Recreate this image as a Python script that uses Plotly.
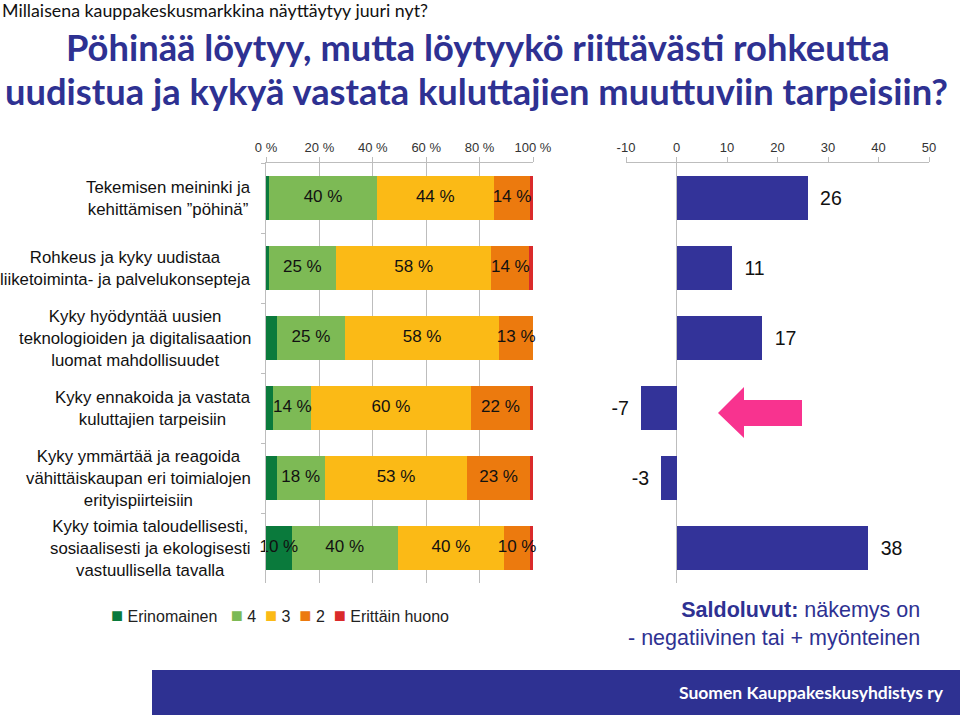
import plotly.graph_objects as go

W, H = 960, 715

categories = [
    "Tekemisen meininki ja<br>kehittämisen ”pöhinä”",
    "Rohkeus ja kyky uudistaa<br>liiketoiminta- ja palvelukonsepteja",
    "Kyky hyödyntää uusien<br>teknologioiden ja digitalisaation<br>luomat mahdollisuudet",
    "Kyky ennakoida ja vastata<br>kuluttajien tarpeisiin",
    "Kyky ymmärtää ja reagoida<br>vähittäiskaupan eri toimialojen<br>erityispiirteisiin",
    "Kyky toimia taloudellisesti,<br>sosiaalisesti ja ekologisesti<br>vastuullisella tavalla",
]

series_names = ["Erinomainen", "4", "3", "2", "Erittäin huono"]
erinomainen = [1.2, 1.0, 4.2, 2.8, 4.0, 9.6]
arvo4 = [40.3, 25.2, 25.3, 14.1, 18.0, 39.7]
arvo3 = [43.8, 58.2, 57.9, 59.8, 53.4, 39.9]
arvo2 = [13.7, 14.2, 12.6, 22.2, 23.4, 9.7]
erittain_huono = [1.0, 1.4, 0.0, 1.1, 1.2, 1.1]
series_values = [erinomainen, arvo4, arvo3, arvo2, erittain_huono]
series_colors = ["#0A7A3C", "#7DBA55", "#FBBA16", "#EC7A0E", "#DA2A2A"]

saldo = [26, 11, 17, -7, -3, 38]

pct_ticks = [0, 20, 40, 60, 80, 100]
saldo_ticks = [-10, 0, 10, 20, 30, 40, 50]


def px_x(x):
    return x / W


def px_y(y):
    return 1 - y / H


fig = go.Figure()

for name, vals, col in zip(series_names, series_values, series_colors):
    fig.add_trace(go.Bar(
        y=categories, x=vals, name=name, orientation="h", showlegend=False,
        marker=dict(color=col, line=dict(width=0)),
        hoverinfo="skip", xaxis="x", yaxis="y",
    ))

# segment labels drawn on top of all bars (centre of each stacked segment)
base = [0.0] * len(categories)
for vals in series_values:
    mids, texts = [], []
    for i, v in enumerate(vals):
        mids.append(base[i] + v / 2)
        texts.append(f"{v:.0f} %" if v >= 8 else "")
        base[i] += v
    fig.add_trace(go.Scatter(
        x=mids, y=categories, mode="text", text=texts, showlegend=False,
        textposition="middle center", cliponaxis=False,
        textfont=dict(color="#111111", size=17, family="Liberation Sans"),
        hoverinfo="skip", xaxis="x", yaxis="y",
    ))

fig.add_trace(go.Bar(
    y=categories, x=saldo, orientation="h", showlegend=False,
    marker=dict(color="#333399", line=dict(width=0)),
    text=[f"\u00a0\u2009{v}\u2009\u00a0" for v in saldo],
    textposition="outside", constraintext="none", cliponaxis=False, textangle=0,
    outsidetextfont=dict(color="#111111", size=19.5, family="Liberation Sans"),
    hoverinfo="skip",
    xaxis="x2", yaxis="y2",
))

ydom = [px_y(583), px_y(163)]
axis_font = dict(family="Liberation Sans", size=13, color="#333333")

fig.update_layout(
    width=W, height=H,
    margin=dict(l=0, r=0, t=0, b=0, autoexpand=False),
    paper_bgcolor="white", plot_bgcolor="white",
    barmode="stack", bargap=0.37,
    showlegend=False,
    xaxis=dict(
        domain=[px_x(266), px_x(533)], range=[0, 100], side="top",
        tickvals=pct_ticks, ticktext=[f"{t} %" for t in pct_ticks],
        showgrid=True, gridcolor="#BDBDBD", gridwidth=1,
        showline=True, linecolor="#BDBDBD", ticks="outside", ticklen=5,
        tickcolor="#BDBDBD", zeroline=False, tickfont=axis_font, anchor="y",
        automargin=False,
    ),
    yaxis=dict(
        domain=ydom, type="category", autorange="reversed",
        showticklabels=False, showline=True, linecolor="#BDBDBD",
        ticks="outside", tickson="boundaries", ticklen=4, tickcolor="#BDBDBD",
        showgrid=False, anchor="x", automargin=False,
    ),
    xaxis2=dict(
        domain=[px_x(626), px_x(929)], range=[-10, 50], side="top",
        tickvals=saldo_ticks, ticktext=[str(t) for t in saldo_ticks],
        showgrid=False, showline=True, linecolor="#BDBDBD", ticks="outside",
        ticklen=5, tickcolor="#BDBDBD", zeroline=True, zerolinecolor="#BDBDBD",
        zerolinewidth=1, tickfont=axis_font, anchor="y2", automargin=False,
    ),
    yaxis2=dict(
        domain=ydom, type="category", autorange="reversed",
        showticklabels=False, showline=False, showgrid=False, ticks="",
        anchor="x2", automargin=False,
    ),
)

annotations = []
for c in categories:
    annotations.append(dict(
        x=px_x(253), y=c, xref="paper", yref="y", xanchor="right", yanchor="middle",
        align="center", showarrow=False, text=c,
        font=dict(family="Liberation Sans", size=16.8, color="#111111"),
    ))

# legend built from the series names / colours
items = [
    f'<span style="color:{col};font-size:20px">■</span>\u00a0{name}'
    for name, col in zip(series_names, series_colors)
]
legend_text = items[0] + "\u00a0" * 3 + ("\u00a0" * 2).join(items[1:])
annotations.append(dict(
    x=px_x(109), y=px_y(615), xref="paper", yref="paper", xanchor="left",
    yanchor="middle", showarrow=False, text=legend_text,
    font=dict(family="Liberation Sans", size=16, color="#222222"),
))

title_font = dict(family="Lato", size=36.3, color="#2E3192")
annotations += [
    dict(x=px_x(0), y=px_y(10), xref="paper", yref="paper", xanchor="left",
         yanchor="middle", showarrow=False,
         text="Millaisena kauppakeskusmarkkina näyttäytyy juuri nyt?",
         font=dict(family="Lato", size=17.8, color="#111111")),
    dict(x=px_x(64), y=px_y(47), xref="paper", yref="paper", xanchor="left",
         yanchor="middle", showarrow=False,
         text="<b>Pöhinää löytyy, mutta löytyykö riittävästi rohkeutta</b>",
         font=title_font),
    dict(x=px_x(3), y=px_y(91), xref="paper", yref="paper", xanchor="left",
         yanchor="middle", showarrow=False,
         text="<b>uudistua ja kykyä vastata kuluttajien muuttuviin tarpeisiin?</b>",
         font=title_font),
    dict(x=px_x(922), y=px_y(624), xref="paper", yref="paper", xanchor="right",
         yanchor="middle", align="right", showarrow=False,
         text="<b>Saldoluvut:</b> näkemys on<br>- negatiivinen tai + myönteinen",
         font=dict(family="Liberation Sans", size=21.5, color="#2E3192")),
    dict(x=px_x(946), y=px_y(692), xref="paper", yref="paper", xanchor="right",
         yanchor="middle", showarrow=False,
         text="<b>Suomen Kauppakeskusyhdistys ry</b>",
         font=dict(family="Lato", size=17.5, color="white")),
]
fig.update_layout(annotations=annotations)

arrow_pts = [(718, 413), (744, 387), (744, 400), (802, 400), (802, 426),
             (744, 426), (744, 438)]
path = "M " + " L ".join(f"{px_x(x):.5f},{px_y(y):.5f}" for x, y in arrow_pts) + " Z"

fig.update_layout(shapes=[
    dict(type="rect", xref="paper", yref="paper", x0=px_x(152), x1=1,
         y0=0, y1=px_y(670), fillcolor="#2E3192", line=dict(width=0),
         layer="below"),
    dict(type="path", xref="paper", yref="paper", path=path,
         fillcolor="#F8338F", line=dict(width=0)),
])

fig.write_html(
    "out.html",
    config={"displayModeBar": False, "staticPlot": True},
    post_script="document.body.style.margin='0px';document.body.style.overflow='hidden';",
)
